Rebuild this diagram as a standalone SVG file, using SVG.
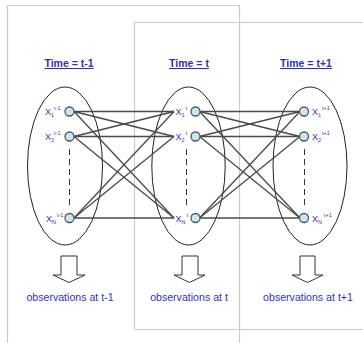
<svg xmlns="http://www.w3.org/2000/svg" width="363" height="343" viewBox="0 0 363 343">
<style>
.frame{fill:none;stroke:#cbcbcb;stroke-width:1.2}
.ell{fill:none;stroke:#222;stroke-width:1}
.node{fill:#c9e6f4;stroke:#555;stroke-width:1.3}
.edge{stroke:#4a4a4a;stroke-width:1.3;fill:none}
.dash{stroke:#333;stroke-width:1;stroke-dasharray:6,4;fill:none}
.arrow{fill:#fff;stroke:#333;stroke-width:1}
.title{font-family:"Liberation Sans",Arial,sans-serif;font-size:10.5px;font-weight:bold;fill:#33339a;text-decoration:underline;text-anchor:middle}
.obs{font-family:"Liberation Sans",Arial,sans-serif;font-size:10.6px;fill:#3535a8;text-anchor:middle}
.lbl{font-family:"Liberation Sans",Arial,sans-serif;font-size:9px;fill:#3535b0}
.sm{font-size:5.5px}
</style>
<rect width="363" height="343" fill="#fff"/>
<g id="frames">
<path class="frame" d="M7.5,345 V5.5 H239.5 V345"/>
<path class="frame" d="M134.5,329.5 V22.5 H365 M134.5,329.5 H365"/>
</g>
<g id="titles">
<text class="title" x="69" y="67">Time = t-1</text>
<text class="title" x="189" y="67">Time = t</text>
<text class="title" x="306" y="67">Time = t+1</text>
</g>
<g id="ellipses">
<ellipse class="ell" cx="65" cy="166" rx="37.5" ry="79"/>
<ellipse class="ell" cx="188.5" cy="166" rx="36.7" ry="79"/>
<ellipse class="ell" cx="310" cy="166" rx="37" ry="79"/>
</g>
<g id="connectors">
<line class="edge" x1="74" y1="111.5" x2="174" y2="111.5"/>
<line class="edge" x1="74" y1="111.5" x2="174" y2="136.5"/>
<line class="edge" x1="74" y1="111.5" x2="174" y2="218"/>
<line class="edge" x1="74" y1="136.5" x2="174" y2="111.5"/>
<line class="edge" x1="74" y1="136.5" x2="174" y2="136.5"/>
<line class="edge" x1="74" y1="136.5" x2="174" y2="218"/>
<line class="edge" x1="74" y1="218" x2="174" y2="111.5"/>
<line class="edge" x1="74" y1="218" x2="174" y2="136.5"/>
<line class="edge" x1="74" y1="218" x2="174" y2="218"/>
<line class="edge" x1="199.5" y1="111.5" x2="300" y2="111.5"/>
<line class="edge" x1="199.5" y1="111.5" x2="300" y2="136.5"/>
<line class="edge" x1="199.5" y1="111.5" x2="300" y2="218"/>
<line class="edge" x1="199.5" y1="136.5" x2="300" y2="111.5"/>
<line class="edge" x1="199.5" y1="136.5" x2="300" y2="136.5"/>
<line class="edge" x1="199.5" y1="136.5" x2="300" y2="218"/>
<line class="edge" x1="199.5" y1="218" x2="300" y2="111.5"/>
<line class="edge" x1="199.5" y1="218" x2="300" y2="136.5"/>
<line class="edge" x1="199.5" y1="218" x2="300" y2="218"/>
<line class="dash" x1="69.5" y1="149" x2="69.5" y2="209"/>
<line class="dash" x1="186.5" y1="149" x2="186.5" y2="209"/>
<line class="dash" x1="304.5" y1="149" x2="304.5" y2="209"/>
</g>
<g id="node-x1-tm1"><circle class="node" cx="69.5" cy="111.5" r="4.5"/><text class="lbl" x="45" y="115">X<tspan class="sm" dy="2">1</tspan><tspan class="sm" dy="-7">t-1</tspan></text></g>
<g id="node-x2-tm1"><circle class="node" cx="69.5" cy="136.5" r="4.5"/><text class="lbl" x="45" y="140">X<tspan class="sm" dy="2">2</tspan><tspan class="sm" dy="-7">t-1</tspan></text></g>
<g id="node-xn-tm1"><circle class="node" cx="69.5" cy="218" r="4.5"/><text class="lbl" x="46" y="221.5">X<tspan class="sm" dy="2">N</tspan><tspan class="sm" dy="-7" dx="1">t-1</tspan></text></g>
<g id="node-x1-t"><circle class="node" cx="195.5" cy="111.5" r="4.5"/><text class="lbl" x="175.5" y="115">X<tspan class="sm" dy="2">1</tspan><tspan class="sm" dy="-7" dx="1">t</tspan></text></g>
<g id="node-x2-t"><circle class="node" cx="195.5" cy="136.5" r="4.5"/><text class="lbl" x="175.5" y="140">X<tspan class="sm" dy="2">2</tspan><tspan class="sm" dy="-7" dx="1">t</tspan></text></g>
<g id="node-xn-t"><circle class="node" cx="195.5" cy="218" r="4.5"/><text class="lbl" x="175.5" y="221.5">X<tspan class="sm" dy="2">N</tspan><tspan class="sm" dy="-7" dx="1">t</tspan></text></g>
<g id="node-x1-tp1"><circle class="node" cx="304" cy="111.5" r="4.5"/><text class="lbl" x="312" y="115">X<tspan class="sm" dy="2">1</tspan><tspan class="sm" dy="-7" dx="1">t+1</tspan></text></g>
<g id="node-x2-tp1"><circle class="node" cx="304" cy="136.5" r="4.5"/><text class="lbl" x="312" y="140">X<tspan class="sm" dy="2">2</tspan><tspan class="sm" dy="-7" dx="1">t+1</tspan></text></g>
<g id="node-xn-tp1"><circle class="node" cx="304" cy="218" r="4.5"/><text class="lbl" x="312" y="221.5">X<tspan class="sm" dy="2">N</tspan><tspan class="sm" dy="-7" dx="2">t+1</tspan></text></g>
<g id="arrows">
<path class="arrow" d="M61,256 H77 V275 H85 L69,282.5 L53,275 H61 Z"/>
<path class="arrow" d="M182,256 H198 V275 H205 L189.5,282.5 L174,275 H182 Z"/>
<path class="arrow" d="M300,256 H315 V275 H323 L307.5,282.5 L292,275 H300 Z"/>
</g>
<g id="observations">
<text class="obs" x="70" y="301">observations at t-1</text>
<text class="obs" x="189" y="301">observations at t</text>
<text class="obs" x="308" y="301">observations at t+1</text>
</g>
</svg>
